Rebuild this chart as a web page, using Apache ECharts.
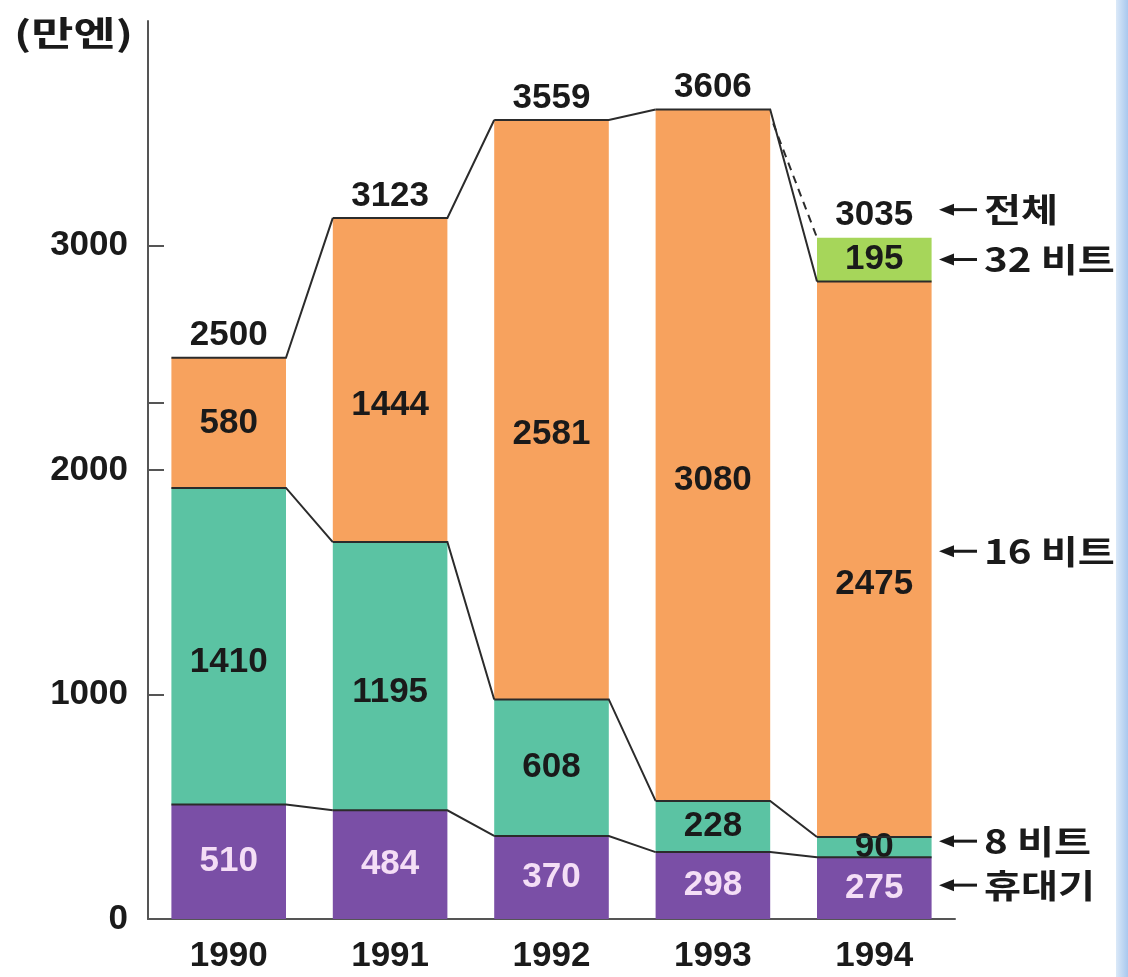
<!DOCTYPE html>
<html>
<head>
<meta charset="utf-8">
<script src="https://cdn.jsdelivr.net/npm/echarts@6/dist/echarts.min.js"></script>
<style>
  html, body { margin: 0; background: #fff; }
  #chart { width: 1128px; height: 977px; }
</style>
</head>
<body>
<div id="chart"></div>
<script>
/* 가정용 게임기 출하 대수 (만엔) — 누적 막대 + 구간 연결선 */

const years    = ['1990', '1991', '1992', '1993', '1994'];
const handheld = [510, 484, 370, 298, 275];      // 휴대기
const bit8     = [1410, 1195, 608, 228, 90];     // 8 비트
const bit16    = [580, 1444, 2581, 3080, 2475];  // 16 비트
const bit32    = [null, null, null, null, 195];  // 32 비트
const totals   = [2500, 3123, 3559, 3606, 3035]; // 전체
const yLabelValues = [0, 1000, 2000, 3000];
const yTickValues  = [0, 1000, 2000, 2300, 3000];

const C = {
  purple: '#7a4fa6', teal: '#5bc3a3', orange: '#f7a25e', green: '#a6d65a',
  line: '#2b2b2b', axis: '#555', text: '#1a1a1a', light: '#f4def6'
};
const BAR_RATIO = 0.71;
const FONT = '"Liberation Sans", Arial, sans-serif';
const KFONT = '"Noto Sans CJK KR", sans-serif';

// 누적 경계값
const lvl1 = handheld.slice();
const lvl2 = lvl1.map((v, i) => v + bit8[i]);
const lvl3 = lvl2.map((v, i) => v + bit16[i]);

function stepData(levels) {
  return levels.map((v, i) => [i, v, i < levels.length - 1 ? levels[i + 1] : NaN]);
}

// 막대 윗변 + 다음 막대로 이어지는 꺾은선
function renderStep(params, api) {
  const i = api.value(0);
  const half = api.size([1, 0])[0] * BAR_RATIO / 2;
  const p = api.coord([i, api.value(1)]);
  const pts = [[p[0] - half, p[1]], [p[0] + half, p[1]]];
  const nxt = api.value(2);
  if (!isNaN(nxt)) {
    const q = api.coord([i + 1, nxt]);
    pts.push([q[0] - half, q[1]]);
  }
  return { type: 'polyline', shape: { points: pts },
           style: { stroke: C.line, lineWidth: 2, fill: null } };
}
// 1993→1994 전체 점선
function renderDash(params, api) {
  const i = api.value(0);
  const half = api.size([1, 0])[0] * BAR_RATIO / 2;
  const p = api.coord([i, api.value(1)]);
  const q = api.coord([i + 1, api.value(2)]);
  return { type: 'line',
           shape: { x1: p[0] + half + 3, y1: p[1] + 14, x2: q[0] - half, y2: q[1] },
           style: { stroke: C.line, lineWidth: 2, lineDash: [8, 6] } };
}

const numStyle = { fontFamily: FONT, fontSize: 35, fontWeight: 'bold', color: C.text };

// 큰 구간(>1000)은 글자가 조금 아래쪽에 놓여 있음
function barSeries(name, data, color, labelColor, bigOffset) {
  return {
    name, type: 'bar', stack: 'all', barWidth: (BAR_RATIO * 100) + '%',
    data: data.map(v => v == null ? null : { value: v, label: { offset: [0, v > 1000 ? bigOffset : 0] } }),
    itemStyle: { color },
    label: { show: true, position: 'inside', ...numStyle, color: labelColor },
    z: 2
  };
}

const chart = echarts.init(document.getElementById('chart'));

chart.setOption({
  backgroundColor: '#fff',
  animation: false,
  grid: { left: 148, right: 173, top: 21, bottom: 58 },
  xAxis: {
    type: 'category', data: years,
    axisLine: { lineStyle: { color: C.axis, width: 2 } },
    axisTick: { alignWithLabel: true, length: 10, lineStyle: { color: C.axis, width: 2 } },
    axisLabel: { ...numStyle, margin: 20 }
  },
  yAxis: {
    type: 'value', min: 0, max: 4000, interval: 1000,
    splitLine: { show: false },
    axisLine: { show: true, lineStyle: { color: C.axis, width: 2 } },
    axisTick: { show: true, inside: true, length: 16, customValues: yTickValues,
                lineStyle: { color: C.axis, width: 2 } },
    axisLabel: { ...numStyle, margin: 20, customValues: yLabelValues, formatter: v => String(v) }
  },
  series: [
    barSeries('휴대기', handheld, C.purple, C.light, 0),
    barSeries('8 비트', bit8, C.teal, C.text, 16),
    barSeries('16 비트', bit16, C.orange, C.text, 25),
    barSeries('32 비트', bit32, C.green, C.text, 0),
    { type: 'custom', renderItem: renderStep, data: stepData(lvl1), encode: { x: 0, y: 1 }, z: 5, silent: true },
    { type: 'custom', renderItem: renderStep, data: stepData(lvl2), encode: { x: 0, y: 1 }, z: 5, silent: true },
    { type: 'custom', renderItem: renderStep, data: stepData(lvl3), encode: { x: 0, y: 1 }, z: 5, silent: true },
    { type: 'custom', renderItem: renderDash, data: [[3, totals[3], totals[4]]], encode: { x: 0, y: 1 }, z: 5, silent: true },
    {
      name: '전체', type: 'scatter', data: totals, symbolSize: 1, z: 6,
      itemStyle: { color: 'rgba(0,0,0,0)', opacity: 1 },
      label: { show: true, position: 'top', distance: 4, ...numStyle }
    }
  ]
});

// 오른쪽 주석(화살표 + 항목명), 단위, 파란 띠
const yOf = v => chart.convertToPixel({ yAxisIndex: 0 }, v);
const notes = [
  { text: '전체',   y: yOf(totals[4]) - 28 },
  { text: '32 비트', y: yOf(lvl3[4] + bit32[4] / 2) },
  { text: '16 비트', y: yOf((lvl2[4] + lvl3[4]) / 2) - 8 },
  { text: '8 비트',  y: yOf((lvl1[4] + lvl2[4]) / 2) - 6 },
  { text: '휴대기',  y: yOf(lvl1[4] / 2) - 3 }
];
const graphics = [];
notes.forEach(n => {
  graphics.push(
    { type: 'line', shape: { x1: 946, y1: n.y, x2: 977, y2: n.y }, style: { stroke: C.text, lineWidth: 3 } },
    { type: 'polygon', shape: { points: [[939, n.y], [954, n.y - 6], [954, n.y + 6]] }, style: { fill: C.text } },
    { type: 'text', x: 984, y: n.y, scaleX: 1.22,
      style: { text: n.text, font: 'bold 33px ' + KFONT, fill: C.text, verticalAlign: 'middle' } }
  );
});
graphics.push(
  { type: 'text', x: 14, y: 33, scaleX: 1.35,
    style: { text: '(만엔)', font: 'bold 34px ' + KFONT, fill: C.text, verticalAlign: 'middle' } },
  { type: 'rect', shape: { x: 1116, y: 0, width: 12, height: 977 },
    style: { fill: new echarts.graphic.LinearGradient(0, 0, 1, 0, [
      { offset: 0, color: '#dbe9f8' }, { offset: 1, color: '#a9c8ee' }]) } }
);
chart.setOption({ graphic: graphics });
</script>
</body>
</html>
